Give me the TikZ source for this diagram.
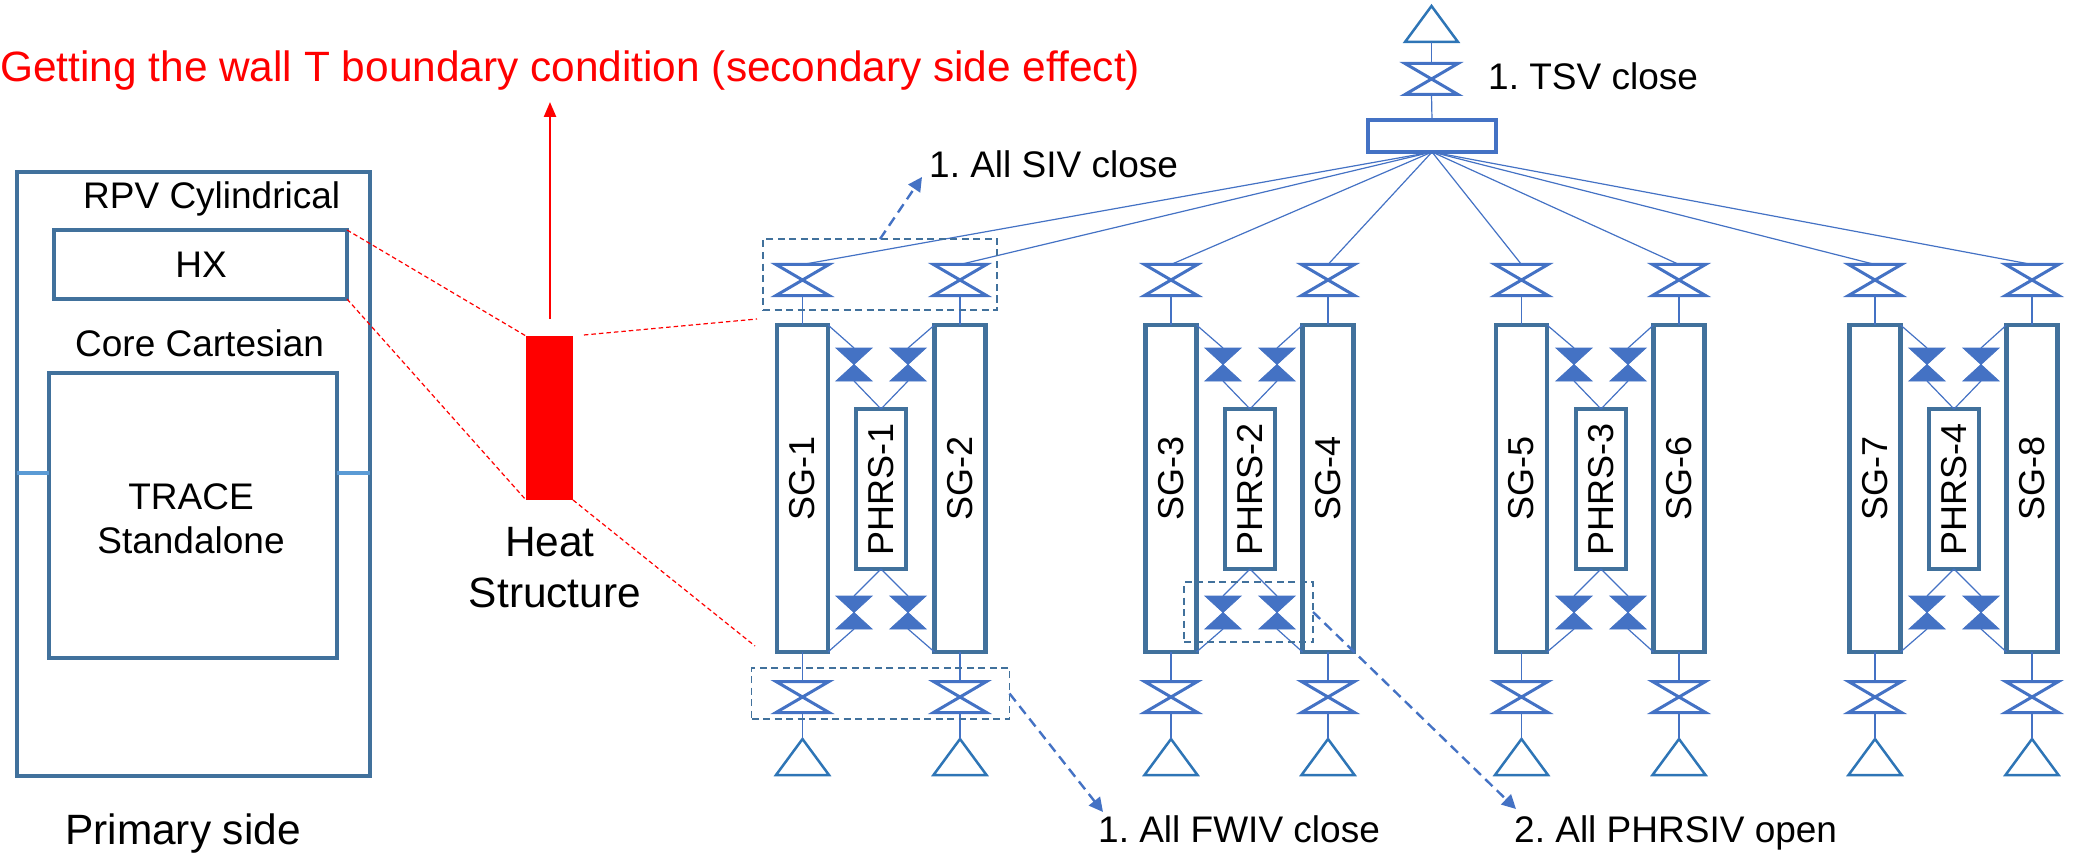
\documentclass[tikz,border=0pt]{standalone}
\usepackage{fontspec}
\setmainfont{Liberation Sans}
\usetikzlibrary{shapes.geometric,arrows.meta}
\definecolor{boxblue}{HTML}{41719C}
\definecolor{linkblue}{HTML}{4472C4}
\definecolor{tankblue}{HTML}{2E75B6}
\definecolor{stubblue}{HTML}{5B9BD5}
\frenchspacing
\begin{document}
\begin{tikzpicture}[x=1pt,y=-1pt]

\tikzstyle{b} = [draw=boxblue, shape=rectangle, line width=4.4pt, inner sep=0pt, outer sep=0pt]
\tikzstyle{sg} = [b, minimum width=51pt, minimum height=327pt, font=\fontsize{36}{43}\selectfont]
\tikzstyle{phrs} = [b, minimum width=50pt, minimum height=160pt, font=\fontsize{36}{43}\selectfont]
\tikzstyle{t} = [anchor=base west, inner sep=0pt, font=\fontsize{37}{44}\selectfont]
\tikzstyle{m} = [t, anchor=base]
\tikzstyle{big} = [t, font=\fontsize{42.4}{50}\selectfont]
\tikzstyle{v} = [shape=rectangle, inner sep=0pt, outer sep=0pt, minimum width=53pt, minimum height=31pt,
  append after command={\pgfextra{\draw[linkblue, line width=3pt, line join=miter]
  (\tikzlastnode.north west) -- (\tikzlastnode.south east) -- (\tikzlastnode.south west) -- (\tikzlastnode.north east) -- cycle;}}]
\tikzstyle{vf} = [shape=rectangle, inner sep=0pt, outer sep=0pt, minimum width=36pt, minimum height=33pt,
  append after command={\pgfextra{\fill[linkblue]
  (\tikzlastnode.north west) -- (\tikzlastnode.south east) -- (\tikzlastnode.south west) -- (\tikzlastnode.north east) -- cycle;
  \draw[linkblue, line width=0.8pt] (\tikzlastnode.north west) -- (\tikzlastnode.south east) -- (\tikzlastnode.south west) -- (\tikzlastnode.north east) -- cycle;}}]
\tikzstyle{tr} = [draw=tankblue, isosceles triangle, isosceles triangle stretches, shape border rotate=90, anchor=apex, inner sep=0pt, outer sep=0pt, line width=2.5pt, minimum width=53pt, minimum height=36pt]
\tikzstyle{l} = [linkblue, line width=1.2pt]
\tikzstyle{dbox} = [draw=boxblue, dash pattern=on 7pt off 4.5pt, line width=1.6pt, shape=rectangle, inner sep=0pt, outer sep=0pt]
\tikzstyle{da} = [linkblue, dash pattern=on 10pt off 6pt, line width=2.4pt, -{Triangle[length=14pt,width=14pt]}]
\tikzstyle{rd} = [red, dash pattern=on 4.5pt off 3pt, line width=1.2pt]

\useasboundingbox (0,0) rectangle (2073,853);

\node[big, red] (title) at (0,82) {Getting the wall T boundary condition (secondary side effect)};

\node[b, minimum width=353pt, minimum height=604pt] (rpv) at (193.5,474) {};
\node[b, minimum width=293pt, minimum height=69pt] (hx) at (200.5,264.5) {};
\node[b, minimum width=288pt, minimum height=285pt] (core) at (193,515.5) {};
\node[m] (hxtext) at (201,277) {HX};
\node[t] (rpvtext) at (83,209) {RPV Cylindrical};
\node[t] (coretext) at (75,356) {Core Cartesian};
\node[m] (tracetext) at (191,509) {TRACE};
\node[m] (standtext) at (191,553) {Standalone};
\node[big] (primtext) at (65,844) {Primary side};
\draw[stubblue, line width=3.5pt] (rpv.west |- 0,473) -- (core.west |- 0,473);
\draw[stubblue, line width=3.5pt] (core.east |- 0,473) -- (rpv.east |- 0,473);

\node[fill=red, shape=rectangle, inner sep=0pt, outer sep=0pt, minimum width=47pt, minimum height=164pt] (hs) at (549.5,418) {};
\node[big, anchor=base] (heattext) at (550,556) {Heat};
\node[big, anchor=base] (structtext) at (555,607) {Structure};
\coordinate (hstop) at (550,319);
\coordinate (wall) at (550,102);
\draw[red, line width=2.4pt, -{Triangle[length=15pt,width=12pt]}] (hstop) -- (wall);

\coordinate (sgtop) at (757,319);
\coordinate (sgbot) at (755,646);
\draw[rd] (hx.north east) -- (hs.north west);
\draw[rd] (hx.south east) -- (hs.south west);
\draw[rd, shorten <=11pt] (hs.north east) -- (sgtop);
\draw[rd] (hs.south east) -- (sgbot);

\node[tr] (tstank) at (1431.5,6) {};
\node[v] (tsv) at (1431.5,79) {};
\node[shape=rectangle, draw=linkblue, line width=4pt, inner sep=0pt, outer sep=0pt, minimum width=128pt, minimum height=32pt] (header) at (1432,136) {};
\draw[l] (tstank.lower side) -- (tsv.north);
\draw[l] (tsv.south) -- (header.north);
\node[t] (tsvtext) at (1488,90) {1. TSV close};

\foreach \c/\a/\p/\b/\na/\nb in {1/802.5/881/960/1/2, 2/1171/1250/1328/3/4, 3/1521.5/1601/1679/5/6, 4/1875/1954/2032/7/8}
{
\node[sg] (sg\na) at (\a,488.5) {\rotatebox{90}{\hspace*{20pt}SG-\na}};
\node[sg] (sg\nb) at (\b,488.5) {\rotatebox{90}{\hspace*{20pt}SG-\nb}};
\node[phrs] (phrs\c) at (\p,489) {\rotatebox{90}{PHRS-\c}};
\foreach \n/\x in {\na/\a,\nb/\b}
{
\node[v] (siv\n) at (\x,280) {};
\node[v] (fwiv\n) at (\x,697) {};
\node[tr] (tank\n) at (\x,739) {};
\draw[l] (header.south) -- (siv\n.north);
\draw[l] (siv\n.south) -- (sg\n.north);
\draw[l] (sg\n.south) -- (fwiv\n.north);
\draw[l] (fwiv\n.south) -- (tank\n.apex);
}
\node[vf] (vup\na) at (\p-27,364.5) {};
\node[vf] (vup\nb) at (\p+27,364.5) {};
\node[vf] (vlo\na) at (\p-27,612.5) {};
\node[vf] (vlo\nb) at (\p+27,612.5) {};
\draw[l] (sg\na.north east) -- (vup\na.north);
\draw[l] (sg\nb.north west) -- (vup\nb.north);
\draw[l] (vup\na.south) -- (phrs\c.north);
\draw[l] (vup\nb.south) -- (phrs\c.north);
\draw[l] (phrs\c.south) -- (vlo\na.north);
\draw[l] (phrs\c.south) -- (vlo\nb.north);
\draw[l] (vlo\na.south) -- (sg\na.south east);
\draw[l] (vlo\nb.south) -- (sg\nb.south west);
}

\node[dbox, minimum width=234pt, minimum height=71pt] (sivbox) at (880,274.5) {};
\node[dbox, minimum width=258pt, minimum height=51pt] (fwivbox) at (880.5,693.5) {};
\node[dbox, minimum width=129pt, minimum height=60pt] (phrsivbox) at (1248.5,612) {};
\node[t] (sivtext) at (929,178) {1. All SIV close};
\node[t] (fwivtext) at (1098,842) {1. All FWIV close};
\node[t] (phrsivtext) at (1514,842) {2. All PHRSIV open};
\coordinate (sivtip) at (922,177);
\coordinate (fwivtip) at (1103,812);
\coordinate (phrsivtip) at (1516,809);
\draw[da] (sivbox.north) -- (sivtip);
\draw[da] (fwivbox.east) -- (fwivtip);
\draw[da] (phrsivbox.east) -- (phrsivtip);
\end{tikzpicture}
\end{document}
